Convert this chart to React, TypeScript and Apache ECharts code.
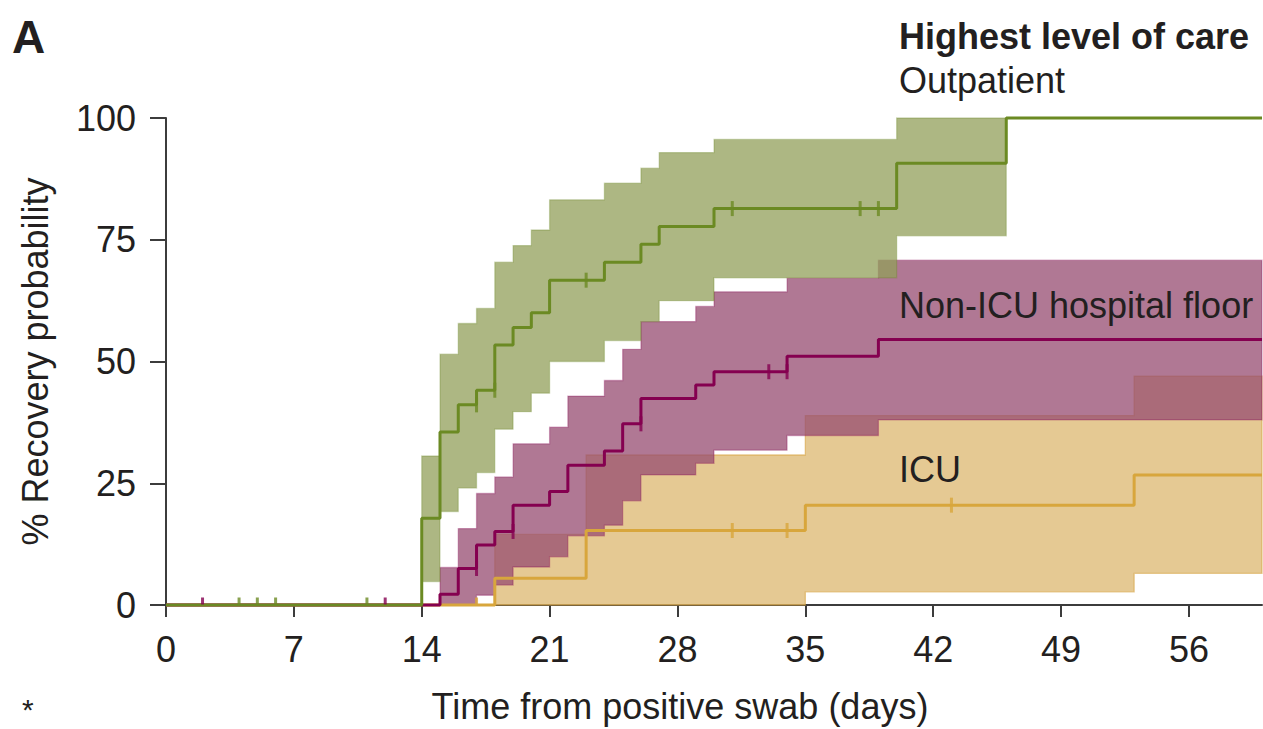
import React, { useEffect, useRef } from 'react';
import * as echarts from 'echarts';

// ---------- data ----------
const xTicks = [0, 7, 14, 21, 28, 35, 42, 49, 56];
const yTicks = [0, 25, 50, 75, 100];

// Outpatient
const outTime = [0, 14, 15, 16, 17, 18, 19, 20, 21, 24, 26, 27, 30, 40, 46, 60];
const outSurv = [0, 17.8, 35.5, 41.1, 44.1, 53.4, 57, 60, 66.7, 70.4, 74.1, 77.7, 81.4, 90.7, 100, 100];
const outBandTime = [14, 15, 16, 17, 18, 19, 20, 21, 24, 26, 27, 30, 40, 46];
const outLower = [4.8, 19.2, 24, 27.2, 36.1, 39.7, 43.5, 50, 54.3, 58.2, 62.5, 67.2, 75.8, 75.8];
const outUpper = [30.6, 51.5, 57.8, 60.9, 70.4, 73.8, 77, 83.2, 86.6, 89.7, 92.9, 95.6, 100, 100];
const outCensorTime = [17, 18, 23, 31, 38, 39];
const outCensorSurv = [41.1, 44.1, 66.7, 81.4, 81.4, 81.4];
const outCensorZero = [4, 5, 6, 11];

// Non-ICU hospital floor
const floorTime = [0, 15, 16, 17, 18, 19, 21, 22, 24, 25, 26, 29, 30, 34, 39, 60];
const floorSurv = [0, 2.2, 7.5, 12.3, 15.1, 20.5, 23.3, 28.7, 31.6, 37.2, 42.4, 45.2, 47.9, 51.1, 54.5, 54.5];
const floorBandTime = [15, 16, 17, 18, 19, 21, 22, 24, 25, 26, 29, 30, 34, 39, 60];
const floorLower = [0, 0, 2.0, 4.1, 7.8, 9.9, 14.2, 16.4, 21.4, 26.7, 29.1, 31.8, 34.8, 38, 38];
const floorUpper = [7.7, 15.7, 22.9, 26.3, 33.1, 36.5, 42.9, 46.1, 52.5, 58.2, 61.3, 64.3, 67.1, 70.8, 70.8];
const floorCensorTime = [17, 19, 26, 33, 34];
const floorCensorSurv = [7.5, 15.1, 37.2, 47.9, 47.9];
const floorCensorZero = [2, 12];

// ICU
const icuTime = [0, 18, 23, 35, 53, 60];
const icuSurv = [0, 5.5, 15.3, 20.5, 26.7, 26.7];
const icuBandTime = [18, 23, 35, 53, 60];
const icuLower = [0, 0, 2.7, 6.5, 6.5];
const icuUpper = [14.5, 30.8, 38.9, 47, 47];
const icuCensorTime = [31, 34, 43];
const icuCensorSurv = [15.3, 15.3, 20.5];
const icuCensorZero = [17];

// ---------- styles ----------
const FONT = "'Liberation Sans', Arial, Helvetica, sans-serif";
const TEXT = '#231f20';
const AXIS = '#3c3c3c';
const GREEN = '#6b8a23';
const MAGENTA = '#850050';
const GOLD = '#d8a63c';

function bandSeries(name: string, times: number[], lower: number[], upper: number[], fill: string, stroke: string) {
  return {
    type: 'custom',
    name,
    coordinateSystem: 'cartesian2d',
    data: [[times[0], lower[0]]],
    encode: { x: 0, y: 1 },
    silent: true,
    z: 1,
    renderItem: (_params: any, api: any) => {
      const pts: number[][] = [];
      const n = times.length;
      for (let i = 0; i < n; i++) {
        const x0 = times[i];
        const x1 = i + 1 < n ? times[i + 1] : times[i];
        pts.push(api.coord([x0, upper[i]]));
        pts.push(api.coord([x1, upper[i]]));
      }
      for (let i = n - 1; i >= 0; i--) {
        const x0 = times[i];
        const x1 = i + 1 < n ? times[i + 1] : times[i];
        pts.push(api.coord([x1, lower[i]]));
        pts.push(api.coord([x0, lower[i]]));
      }
      return {
        type: 'polygon',
        shape: { points: pts },
        style: { fill, stroke, lineWidth: 1.3 },
      };
    },
  };
}

function lineSeries(name: string, times: number[], surv: number[], color: string) {
  return {
    type: 'line',
    name,
    step: 'end',
    data: times.map((t, i) => [t, surv[i]]),
    showSymbol: false,
    symbol: 'none',
    clip: false,
    z: 3,
    silent: true,
    lineStyle: { color, width: 3 },
  };
}

function censorSeries(times: number[], surv: number[], color: string) {
  return {
    type: 'scatter',
    data: times.map((t, i) => [t, surv[i]]),
    symbol: 'rect',
    symbolSize: [3, 15],
    itemStyle: { color },
    z: 4,
    silent: true,
  };
}

function censorZeroSeries(times: number[], color: string) {
  return {
    type: 'scatter',
    data: times.map((t) => [t, 0]),
    symbol: 'rect',
    symbolSize: [3, 7],
    symbolOffset: [0, -4],
    itemStyle: { color },
    z: 4,
    silent: true,
  };
}

export default function App() {
  const ref = useRef<HTMLDivElement>(null);

  useEffect(() => {
    document.body.style.margin = '0';
    if (!ref.current) return;
    const chart = echarts.init(ref.current, undefined, { renderer: 'svg' });

    const option: any = {
      animation: false,
      backgroundColor: '#ffffff',
      grid: { left: 166, right: 1, top: 118, bottom: 124, containLabel: false },
      xAxis: {
        type: 'value',
        min: 0,
        max: 60,
        interval: 7,
        axisLine: { show: true, onZero: false, lineStyle: { color: AXIS, width: 2 } },
        axisTick: { show: true, length: 12, customValues: xTicks, lineStyle: { color: AXIS, width: 2 } },
        axisLabel: {
          customValues: xTicks,
          fontSize: 36,
          fontFamily: FONT,
          color: TEXT,
          margin: 26,
        },
        splitLine: { show: false },
      },
      yAxis: {
        type: 'value',
        min: 0,
        max: 100,
        interval: 25,
        name: '% Recovery probability',
        nameLocation: 'middle',
        nameGap: 113,
        nameTextStyle: { fontSize: 36, fontFamily: FONT, color: TEXT },
        axisLine: { show: true, lineStyle: { color: AXIS, width: 2 } },
        axisTick: { show: true, length: 16, customValues: yTicks, lineStyle: { color: AXIS, width: 2 } },
        axisLabel: {
          customValues: yTicks,
          fontSize: 36,
          fontFamily: FONT,
          color: TEXT,
          margin: 30,
        },
        splitLine: { show: false },
      },
      series: [
        bandSeries('ICU band', icuBandTime, icuLower, icuUpper, 'rgba(220,183,111,0.75)', 'rgba(214,160,60,0.55)'),
        bandSeries('Non-ICU band', floorBandTime, floorLower, floorUpper, 'rgba(150,75,112,0.75)', 'rgba(133,0,80,0.3)'),
        bandSeries('Outpatient band', outBandTime, outLower, outUpper, 'rgba(146,159,90,0.75)', 'rgba(107,137,35,0.3)'),
        lineSeries('ICU', icuTime, icuSurv, GOLD),
        lineSeries('Non-ICU hospital floor', floorTime, floorSurv, MAGENTA),
        lineSeries('Outpatient', outTime, outSurv, GREEN),
        censorSeries(icuCensorTime, icuCensorSurv, GOLD),
        censorSeries(floorCensorTime, floorCensorSurv, MAGENTA),
        censorSeries(outCensorTime, outCensorSurv, GREEN),
        censorZeroSeries(icuCensorZero, GOLD),
        censorZeroSeries(floorCensorZero, MAGENTA),
        censorZeroSeries(outCensorZero, GREEN),
      ],
      graphic: [
        {
          type: 'text', left: 12, top: 14,
          style: { text: 'A', fontSize: 46, fontWeight: 'bold', fontFamily: FONT, fill: TEXT },
        },
        {
          type: 'text', x: 899, y: 36,
          style: { text: 'Highest level of care', fontSize: 36, fontWeight: 'bold', fontFamily: FONT, fill: TEXT, verticalAlign: 'middle' },
        },
        {
          type: 'text', x: 899, y: 80,
          style: { text: 'Outpatient', fontSize: 36, fontFamily: FONT, fill: TEXT, verticalAlign: 'middle' },
        },
        {
          type: 'text', x: 899, y: 305, z: 10,
          style: { text: 'Non-ICU hospital floor', fontSize: 36, fontFamily: FONT, fill: TEXT, verticalAlign: 'middle' },
        },
        {
          type: 'text', x: 899, y: 469, z: 10,
          style: { text: 'ICU', fontSize: 36, fontFamily: FONT, fill: TEXT, verticalAlign: 'middle' },
        },
        {
          type: 'text', x: 680, y: 706,
          style: { text: 'Time from positive swab (days)', fontSize: 36, fontFamily: FONT, fill: TEXT, align: 'center', verticalAlign: 'middle' },
        },
        {
          type: 'text', x: 22, y: 709,
          style: { text: '*', fontSize: 30, fontFamily: FONT, fill: TEXT, verticalAlign: 'middle' },
        },
      ],
    };

    chart.setOption(option);
    return () => chart.dispose();
  }, []);

  return <div ref={ref} style={{ width: 1263, height: 729 }} />;
}
